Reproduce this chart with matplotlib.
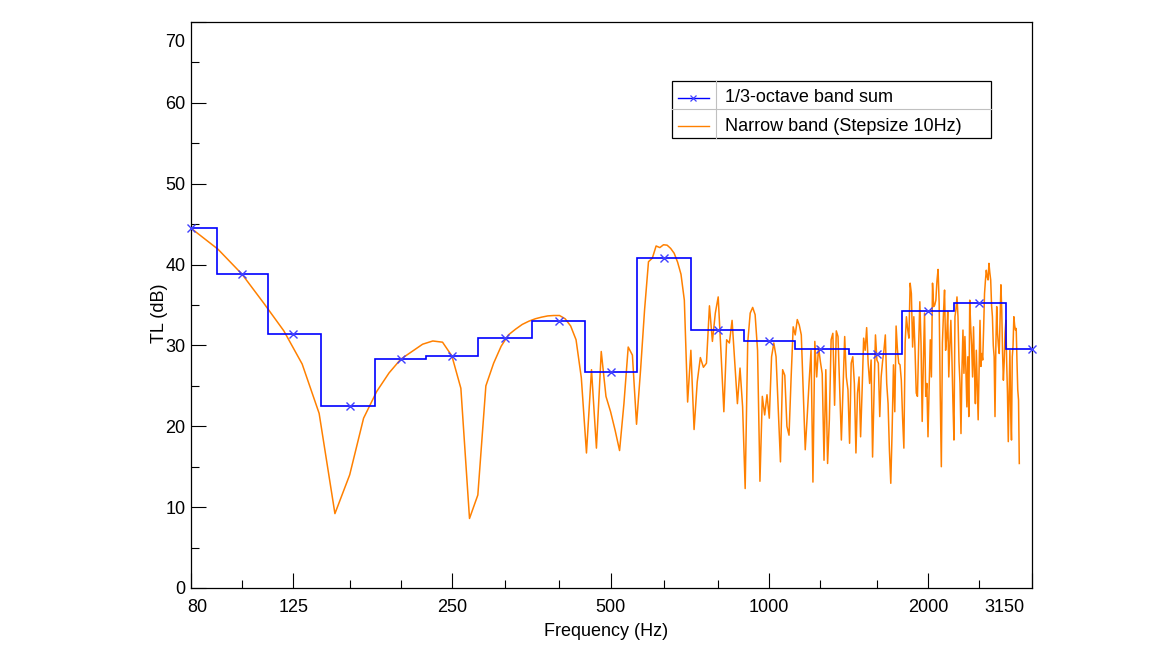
import numpy as np
import matplotlib
matplotlib.use('Agg')
import matplotlib.pyplot as plt
from matplotlib.ticker import MultipleLocator, NullFormatter
from matplotlib.transforms import ScaledTranslation
from matplotlib.lines import Line2D
from matplotlib.patches import Rectangle

plt.rcParams['font.family'] = ['Liberation Sans', 'DejaVu Sans']

# 1) 1/3-octave band sum (centre frequencies, TL in dB)
bands = [80, 100, 125, 160, 200, 250, 315, 400, 500, 630, 800,
         1000, 1250, 1600, 2000, 2500, 3150]
tl_band = [44.5, 38.8, 31.4, 22.5, 28.3, 28.7, 30.9, 33.0, 26.7, 40.8, 31.9,
           30.6, 29.6, 29.0, 34.2, 35.2, 29.6]

# 2) narrow band, step size 10 Hz (80 ... 2980 Hz)
f_narrow = np.arange(80, 2990, 10)
tl_narrow = [
    44.5, 41.9,
    38.8, 35.2, 31.8, 27.7, 21.6, 9.2, 14.0, 21.0, 24.3, 26.6,
    28.3, 29.25, 30.15, 30.55, 30.4, 28.7, 24.7, 8.6, 11.5, 25.0,
    27.8, 29.9, 31.3, 32.0, 32.6, 33.0, 33.3, 33.5, 33.65, 33.7,
    33.7, 33.3, 32.4, 30.7, 26.0, 16.7, 27.0, 17.3, 29.25, 23.7,
    21.8, 19.5, 17.0, 22.8, 29.8, 28.8, 20.25, 27.0, 34.4, 40.35,
    40.8, 42.3, 42.1, 42.45, 42.4, 42.0, 41.4, 40.3, 38.8, 35.6,
    23.0, 29.4, 19.6, 25.5, 28.5, 27.3, 27.8, 34.9, 30.5, 34.0,
    36.0, 29.0, 21.8, 30.7, 30.3, 33.1, 28.0, 22.8, 27.2, 22.4,
    12.3, 30.3, 34.0, 34.7, 33.8, 29.4, 13.2, 23.7, 21.4, 23.9,
    21.0, 28.6, 30.3, 28.6, 22.0, 15.6, 27.0, 26.3, 20.0, 18.9,
    26.0, 32.3, 31.3, 33.2, 32.5, 31.3, 24.0, 17.1, 21.2, 25.5,
    29.4, 13.1, 30.5, 26.1, 29.8, 28.0, 26.5, 15.8, 27.0, 15.4,
    20.8, 30.7, 31.5, 22.6, 31.8, 31.1, 24.5, 18.3, 24.8, 31.1,
    26.1, 24.5, 17.9, 27.8, 28.6, 25.3, 16.7, 24.1, 26.1, 18.7,
    24.5, 30.9, 29.4, 32.2, 27.8, 25.3, 28.2, 16.2, 24.1, 31.3,
    28.2, 27.8, 21.2, 26.1, 28.0, 29.4, 31.3, 25.3, 22.8, 17.0,
    12.95, 19.5, 27.6, 21.8, 32.4, 29.5, 27.8, 27.6, 25.7, 21.0,
    17.3, 30.3, 33.55, 32.0, 30.9, 37.7, 36.4, 29.8, 33.55, 29.4,
    24.1, 23.7, 30.0, 35.4, 30.3, 20.6, 28.0, 34.0, 23.7, 25.3,
    18.7, 25.0, 30.7, 26.1, 37.7, 34.8, 35.0, 35.6, 38.0, 39.4,
    35.2, 23.7, 15.0, 30.3, 34.0, 36.85, 29.4, 31.0, 34.2, 26.1,
    30.0, 33.1, 28.6, 23.0, 18.3, 33.55, 34.5, 36.0, 33.55, 28.0,
    25.3, 19.1, 27.0, 31.9, 26.55, 31.1, 27.0, 22.4, 28.6, 21.2,
    35.6, 32.3, 30.0, 26.1, 32.3, 27.0, 22.8, 29.4, 25.0, 20.8,
    27.0, 33.1, 27.4, 29.0, 28.2, 32.0, 36.4, 38.0, 39.3, 38.5,
    38.1, 40.15, 39.0, 38.1, 35.0, 33.55, 30.0, 28.6, 21.2, 30.0,
    34.8, 31.5, 30.0, 29.0, 33.0, 37.5, 34.4, 29.0, 25.7, 28.0,
    31.5, 33.1, 28.0, 24.1, 18.1, 24.0, 29.4, 22.0, 18.3, 28.6,
    30.0, 33.55, 32.5, 31.9, 32.1, 28.0, 24.5, 23.25, 15.4,
]

# tick positions / labels
x_major = [80, 125, 250, 500, 1000, 2000, 3150]
x_labels = ['80', '125', '250', '500', '1000', '2000', '3150']
x_minor = [100, 160, 200, 315, 400, 630, 800, 1250, 1600, 2500]
y_major = [0, 10, 20, 30, 40, 50, 60, 70]

legend_labels = ['1/3-octave band sum', 'Narrow band (Stepsize 10Hz)']
c_band = '#0000ff'
c_narrow = '#ff8000'
fs = 13

fig = plt.figure(figsize=(11.62, 6.57), dpi=100)
ax = fig.add_axes([191 / 1162, 69 / 657, 841 / 1162, 566 / 657])

# band edges = geometric mean of neighbouring centre frequencies
b = np.array(bands, dtype=float)
edges = np.concatenate([[b[0]], np.sqrt(b[:-1] * b[1:]), [b[-1]]])

ax.plot(f_narrow, tl_narrow, color=c_narrow, lw=1.1, zorder=2)
ax.stairs(tl_band, edges, baseline=None, color=c_band, lw=1.2, zorder=3)
ax.plot(bands, tl_band, ls='none', marker='x', ms=5.5, mew=1.0,
        color='#4040ff', zorder=4, clip_on=False)

# axes
ax.set_xscale('log')
ax.set_xlim(80, 3150)
ax.set_ylim(0, 70)
ax.set_xticks(x_major, labels=x_labels)
ax.set_xticks(x_minor, minor=True)
ax.xaxis.set_minor_formatter(NullFormatter())
ax.set_yticks(y_major)
ax.yaxis.set_minor_locator(MultipleLocator(5))
ax.tick_params(which='both', direction='in', top=False, right=False,
               labelsize=fs, width=0.8, color='black')
ax.tick_params(which='major', length=10.8)
ax.tick_params(which='minor', length=5.6)
ax.tick_params(axis='x', pad=8)
ax.tick_params(axis='y', pad=4)
for s in ax.spines.values():
    s.set_linewidth(0.9)

# edge labels are pushed inside, like the original
labs = ax.get_xticklabels()
labs[0].set_transform(labs[0].get_transform() + ScaledTranslation(0.06, 0, fig.dpi_scale_trans))
labs[-1].set_transform(labs[-1].get_transform() + ScaledTranslation(-0.28, 0, fig.dpi_scale_trans))
ylabs = ax.get_yticklabels()
ylabs[-1].set_transform(ylabs[-1].get_transform() + ScaledTranslation(0, -0.18, fig.dpi_scale_trans))

ax.set_xlabel('Frequency (Hz)', fontsize=fs)
ax.xaxis.set_label_coords(0.494, -0.062)
ax.set_ylabel('TL (dB)', fontsize=fs)
ax.yaxis.set_label_coords(-0.027, 0.485)

# table-like legend
tr = ax.transAxes
ax.add_patch(Rectangle((0.572, 0.795), 0.379, 0.101, transform=tr,
                       fill=True, facecolor='white', edgecolor='black', lw=0.9, zorder=5))
ax.add_line(Line2D([0.572, 0.951], [0.846, 0.846], transform=tr, color='#c0c0c0', lw=0.8, zorder=6))
ax.add_line(Line2D([0.624, 0.624], [0.795, 0.896], transform=tr, color='#c0c0c0', lw=0.8, zorder=6))
ax.add_line(Line2D([0.579, 0.616], [0.866, 0.866], transform=tr, color=c_band, lw=1.0, zorder=6))
ax.add_line(Line2D([0.5975], [0.866], transform=tr, color='#4040ff', marker='x', ms=4, mew=0.9, zorder=7))
ax.add_line(Line2D([0.579, 0.616], [0.816, 0.816], transform=tr, color=c_narrow, lw=1.0, zorder=6))
ax.text(0.635, 0.866, legend_labels[0], transform=tr, fontsize=fs, va='center', ha='left', zorder=7)
ax.text(0.635, 0.816, legend_labels[1], transform=tr, fontsize=fs, va='center', ha='left', zorder=7)

fig.savefig('out.png', dpi=100)
